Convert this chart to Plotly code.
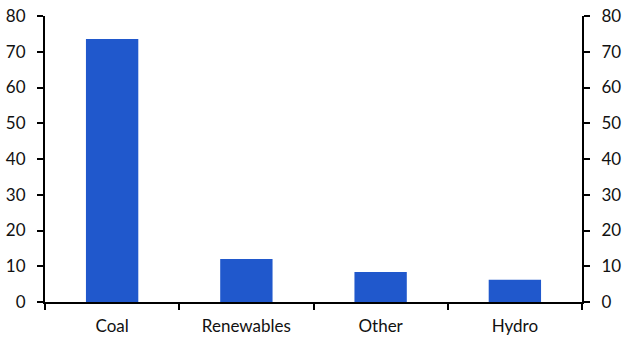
import plotly.graph_objects as go

categories = ["Coal", "Renewables", "Other", "Hydro"]
values = [73.6, 12.0, 8.4, 6.2]
y_ticks = [0, 10, 20, 30, 40, 50, 60, 70, 80]

bar_color = "#2058CC"
font = dict(family="Lato, 'Open Sans', sans-serif", size=17, color="#111111")

fig = go.Figure()
fig.add_trace(go.Bar(x=categories, y=values, marker=dict(color=bar_color, line=dict(width=0)),
                     width=0.39, showlegend=False, hoverinfo="x+y"))
fig.add_trace(go.Scatter(x=categories, y=values, yaxis="y2", mode="markers",
                         marker=dict(opacity=0), showlegend=False, hoverinfo="skip"))

axis_common = dict(range=[0, 80], tickvals=y_ticks, ticks="outside", ticklen=6, tickwidth=2,
                   tickcolor="black", showline=True, linecolor="black", linewidth=2,
                   showgrid=False, zeroline=False, tickfont=font, automargin=False,
                   ticklabelstandoff=8)

fig.update_layout(
    width=636, height=364,
    margin=dict(l=45, r=54, t=16, b=62),
    plot_bgcolor="white", paper_bgcolor="white",
    font=font,
    xaxis=dict(type="category", range=[-0.5, 3.5], tickson="boundaries", ticks="outside",
               ticklen=6, tickwidth=2, tickcolor="black", showline=True, linecolor="black",
               linewidth=2, showgrid=False, tickfont=font, automargin=False,
               ticklabelstandoff=8),
    yaxis=dict(side="left", **axis_common),
    yaxis2=dict(side="right", overlaying="y", **axis_common),
    bargap=0.6,
)

fig.write_html("out.html", config={"displayModeBar": False},
               post_script="document.body.style.margin='0';document.body.style.overflow='hidden';")
